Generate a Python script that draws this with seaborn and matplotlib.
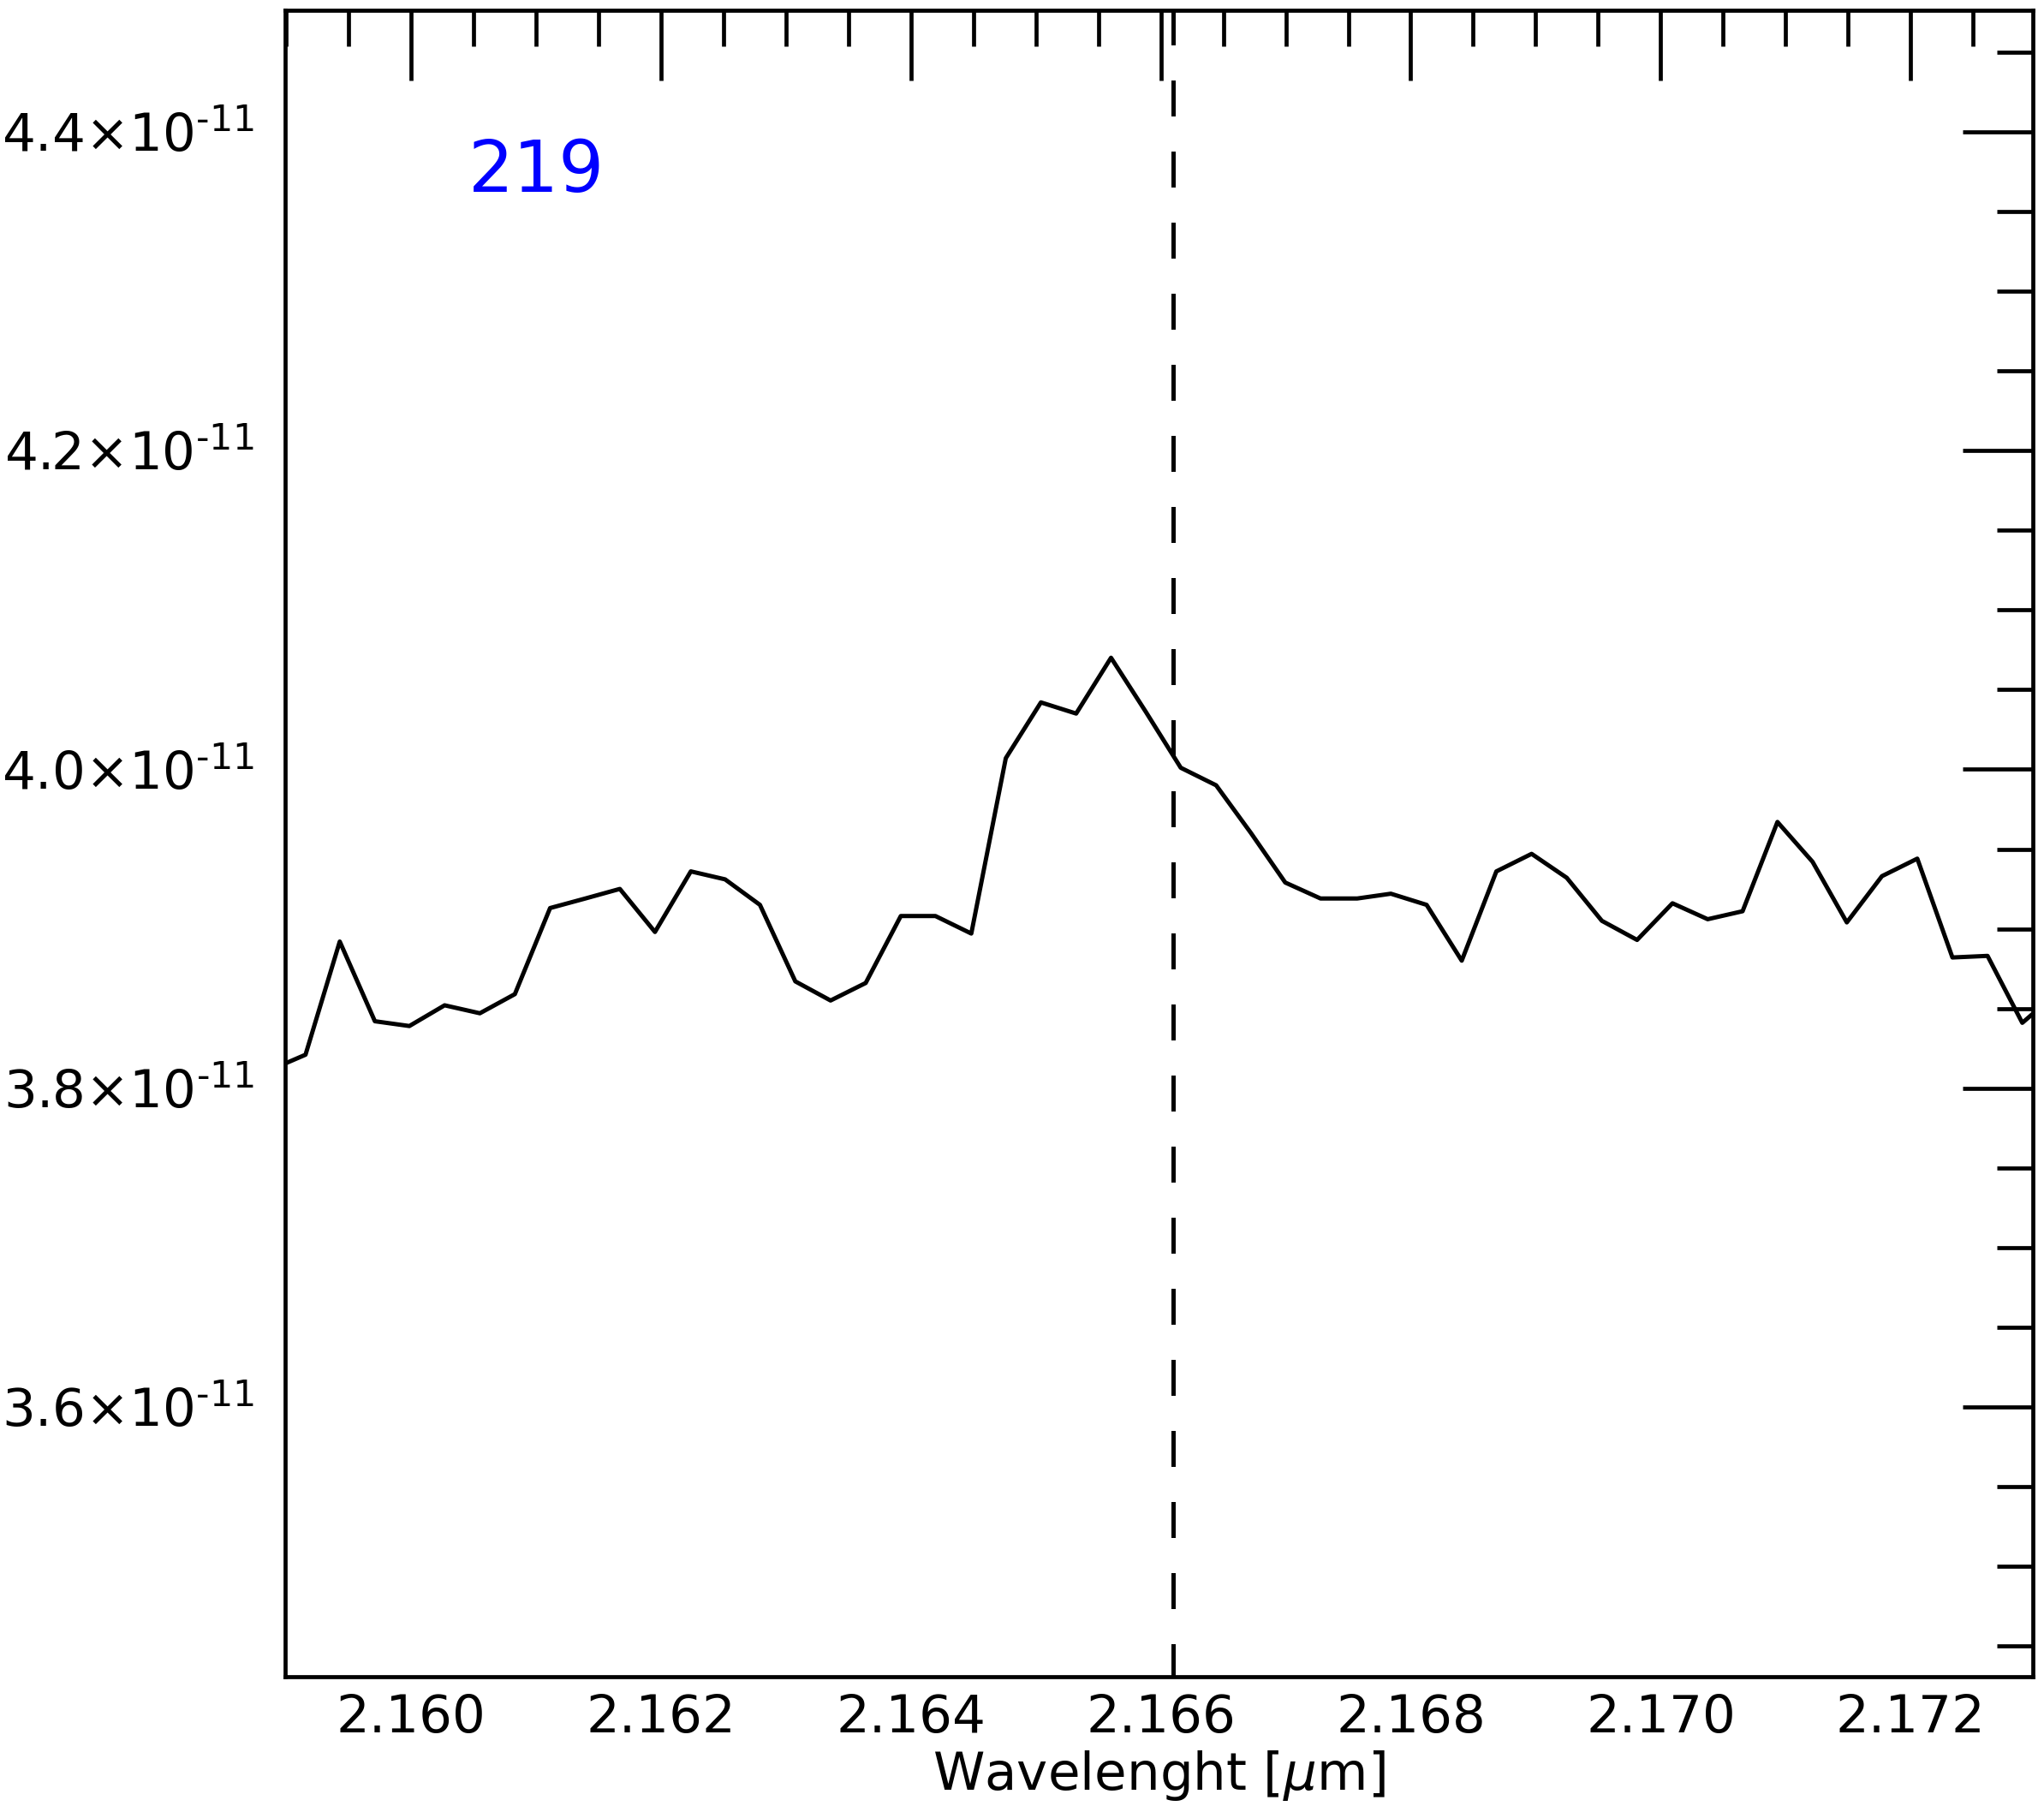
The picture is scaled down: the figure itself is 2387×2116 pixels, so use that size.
import numpy as np
import matplotlib
matplotlib.use("Agg")
import matplotlib.pyplot as plt
from matplotlib.ticker import MultipleLocator, FuncFormatter
import seaborn as sns

# spectrum (flux in units of 1e-11)
wavelength = [2.158876, 2.159157, 2.159431, 2.159712, 2.159988, 2.160270, 2.160552,
              2.160832, 2.161114, 2.161396, 2.161672, 2.161953, 2.162240, 2.162514,
              2.162793, 2.163076, 2.163358, 2.163639, 2.163920, 2.164197, 2.164484,
              2.164760, 2.165041, 2.165323, 2.165602, 2.165881, 2.166160, 2.166443,
              2.166722, 2.166996, 2.167278, 2.167572, 2.167841, 2.168127, 2.168408,
              2.168685, 2.168967, 2.169248, 2.169529, 2.169811, 2.170094, 2.170376,
              2.170655, 2.170934, 2.171215, 2.171489, 2.171770, 2.172053, 2.172334,
              2.172615, 2.172893, 2.173174]
flux = [3.8115, 3.821, 3.892, 3.842, 3.839, 3.852, 3.847, 3.859, 3.913, 3.919,
        3.925, 3.898, 3.936, 3.931, 3.915, 3.867, 3.855, 3.866, 3.908, 3.908,
        3.897, 4.007, 4.042, 4.035, 4.070, 4.036, 4.001, 3.990, 3.960, 3.929,
        3.919, 3.919, 3.922, 3.915, 3.880, 3.936, 3.947, 3.932, 3.905, 3.893,
        3.916, 3.906, 3.911, 3.967, 3.942, 3.904, 3.933, 3.944, 3.882, 3.883,
        3.841, 3.860]
xticks = [2.160, 2.162, 2.164, 2.166, 2.168, 2.170, 2.172]
yticks = [3.6, 3.8, 4.0, 4.2, 4.4]
line_center = 2.1661
label = "219"

sns.set_style("white")
plt.rcParams['font.family'] = ['DejaVu Sans']
plt.rcParams['mathtext.fontset'] = 'dejavusans'
plt.rcParams['text.color'] = 'black'
plt.rcParams['axes.labelcolor'] = 'black'
plt.rcParams['xtick.color'] = 'black'
plt.rcParams['ytick.color'] = 'black'

fig = plt.figure(figsize=(23.87, 21.16), dpi=100)
ax = fig.add_axes([0.1395, 0.0748, 0.9947 - 0.1395, 0.9942 - 0.0748])

sns.lineplot(x=wavelength, y=np.array(flux) * 1e-11, color='black', linewidth=3.6,
             estimator=None, ax=ax)
ax.axvline(line_center, color='black', lw=3.6, linestyle=(0.7, (8.4, 8.2)))

ax.set_xlim(2.158994, 2.17298)
ax.set_ylim(3.431e-11, 4.476e-11)

ax.set_xticks(xticks)
ax.set_yticks(np.array(yticks) * 1e-11)
ax.xaxis.set_minor_locator(MultipleLocator(0.0005))
ax.yaxis.set_minor_locator(MultipleLocator(0.05e-11))
ax.xaxis.set_major_formatter(FuncFormatter(lambda v, p: '%.3f' % v))
ax.yaxis.set_major_formatter(
    FuncFormatter(lambda v, p: r'$%.1f{\times}10^{\text{-11}}$' % (v / 1e-11)))

ax.tick_params(which='both', direction='in', top=True, right=True,
               width=3.4, color='black', labelcolor='black', labelsize=44)
ax.tick_params(which='major', length=59)
ax.tick_params(which='minor', length=30)
ax.tick_params(axis='x', which='major', pad=14)
ax.tick_params(axis='y', which='major', pad=26)
for s in ax.spines.values():
    s.set_linewidth(3.4)
    s.set_color('black')

ax.set_xlabel(r'Wavelenght [$\mu$m]', fontsize=44, labelpad=4)
ax.text(0.144, 0.903, label, color='blue', fontsize=60,
        ha='center', va='center', transform=ax.transAxes)

fig.savefig('out.png', dpi=100)
